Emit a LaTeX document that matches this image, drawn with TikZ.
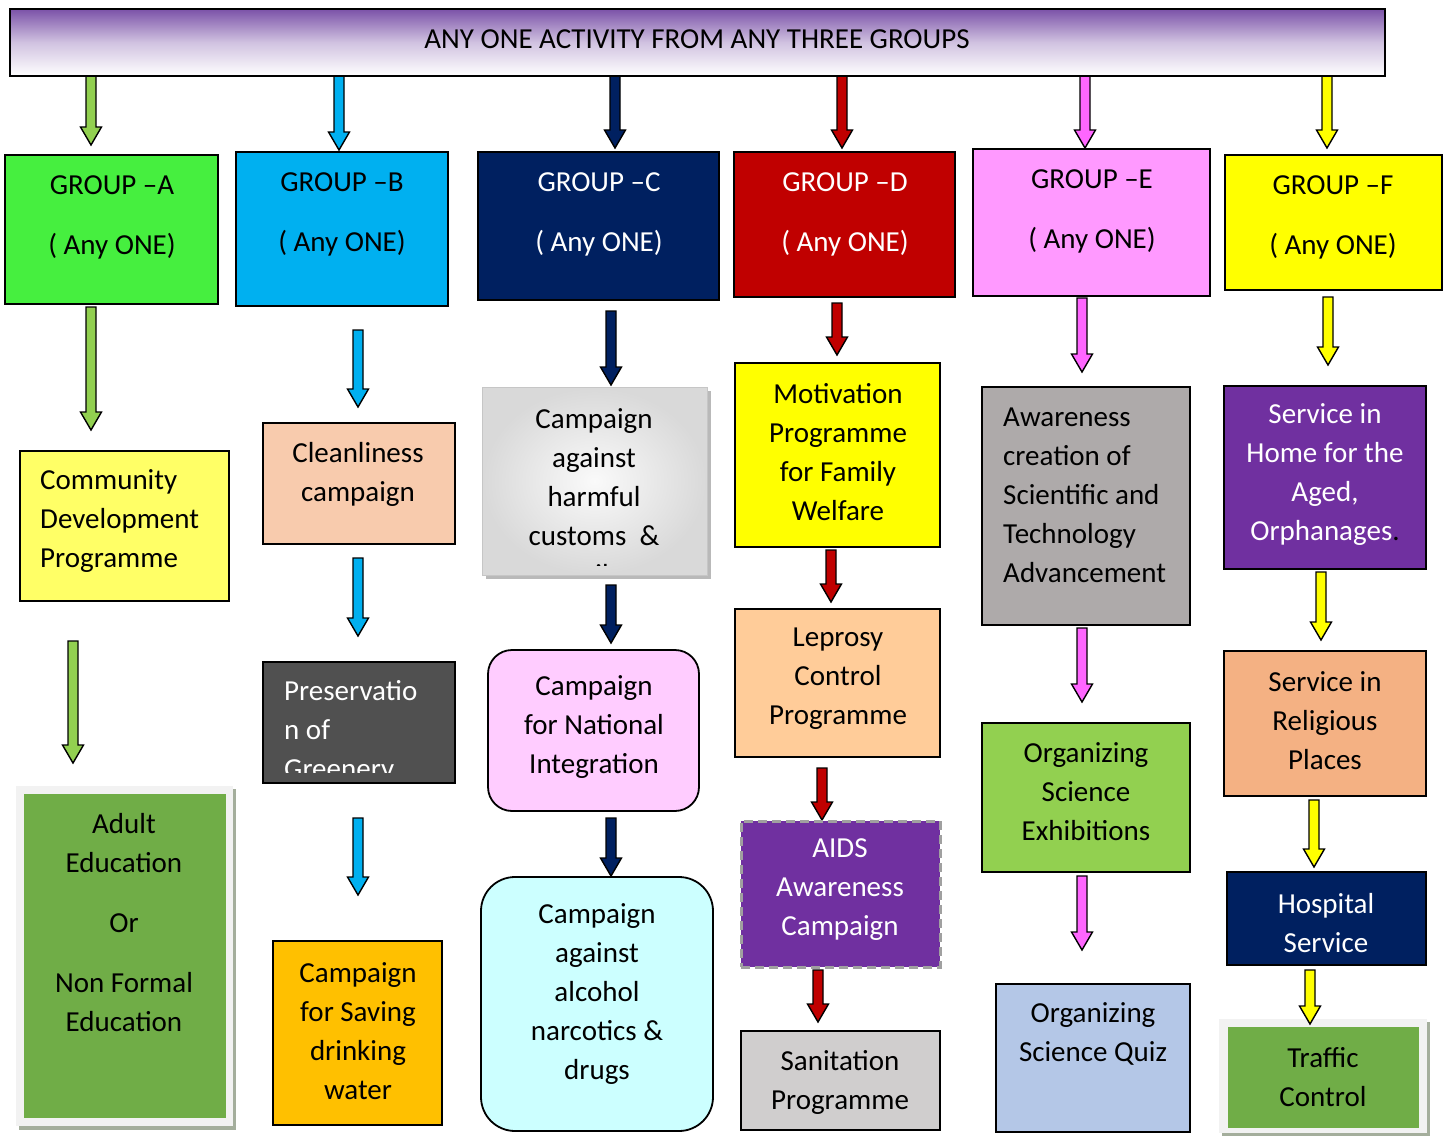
\documentclass[tikz,border=0pt]{standalone}
\usepackage{fontspec}
\setmainfont{Carlito}
\definecolor{bpurple}{HTML}{7B52A8}
\definecolor{agreen}{HTML}{92D050}
\definecolor{acyan}{HTML}{00B0F0}
\definecolor{anavy}{HTML}{002060}
\definecolor{ared}{HTML}{C00000}
\definecolor{apink}{HTML}{FF66FF}
\definecolor{ayellow}{HTML}{FFFF00}
\definecolor{gA}{HTML}{46EF3F}
\definecolor{gE}{HTML}{FF99FF}
\definecolor{lyellow}{HTML}{FFFF66}
\definecolor{olive}{HTML}{70AD47}
\definecolor{peach}{HTML}{F8CBAD}
\definecolor{dgray}{HTML}{505050}
\definecolor{gold}{HTML}{FFC000}
\definecolor{lpink}{HTML}{FFCCFF}
\definecolor{lcyan}{HTML}{CCFFFF}
\definecolor{lorange}{HTML}{FFCC99}
\definecolor{purp}{HTML}{7030A0}
\definecolor{sgray}{HTML}{D0CECE}
\definecolor{mgray}{HTML}{AEAAAA}
\definecolor{lblue}{HTML}{B4C7E7}
\definecolor{salmon}{HTML}{F4B183}
\definecolor{frame}{HTML}{F2F2F2}
\definecolor{fshadow}{HTML}{A4AE9C}
\definecolor{dashgray}{HTML}{A0A0A0}
\newcommand\bx[6]{\node[boxst,#6,minimum width={(#4-#2)*1pt},minimum height={(#5-#3)*1pt}] (#1) at ({(#2+#4)/2},{(#3+#5)/2}) {};}
\newcommand\barr[4]{\draw[arrst, fill=#4] ({#1-5},#2) -- ({#1+5},#2) -- ({#1+5},{#3-18}) -- ({#1+10.5},{#3-18}) -- (#1,#3) -- ({#1-10.5},{#3-18}) -- ({#1-5},{#3-18}) -- cycle;}
\begin{document}
\begin{tikzpicture}[x=1pt,y=-1pt,
  boxst/.style={draw=black, line width=1.8pt, rectangle, inner sep=0pt},
  arrst/.style={draw=black, line width=1.4pt, line join=miter},
  txt/.style={font=\fontsize{29}{39}\selectfont, align=center, inner sep=0pt},
  wtxt/.style={txt, text=white},
  ltxt/.style={txt, align=left, anchor=west}]
\useasboundingbox[fill=white] (0,0) rectangle (1452,1137);
% top arrows
\barr{91}{70}{145}{agreen}
\barr{339}{70}{150}{acyan}
\barr{615}{70}{148}{anavy}
\barr{842}{70}{148}{ared}
\barr{1085}{70}{148}{apink}
\barr{1327}{70}{148}{ayellow}
% banner
\node[draw=black, line width=1.8pt, rectangle, inner sep=0pt, top color=bpurple, bottom color=white, middle color=bpurple!35,
  minimum width=1375pt, minimum height=67pt] (banner) at (697.5,42.5) {};
\node[txt, font=\fontsize{29}{36}\selectfont] (bannert) at (697,39) {ANY ONE ACTIVITY FROM ANY THREE GROUPS};
% group boxes
\bx{ga}{5}{155}{218}{304}{fill=gA}
\bx{gb}{236}{152}{448}{306}{fill=acyan}
\bx{gc}{478}{152}{719}{300}{fill=anavy}
\bx{gd}{734}{152}{955}{297}{fill=ared}
\bx{ge}{973}{149}{1210}{296}{fill=gE}
\bx{gf}{1225}{155}{1442}{290}{fill=ayellow}
\node[txt] (gat) at (112,217) {GROUP –A\\[21pt]( Any ONE)};
\node[txt] (gbt) at (342,214) {GROUP –B\\[21pt]( Any ONE)};
\node[wtxt] (gct) at (599,214) {GROUP –C\\[21pt]( Any ONE)};
\node[wtxt] (gdt) at (845,214) {GROUP –D\\[21pt]( Any ONE)};
\node[txt] (get) at (1092,211) {GROUP –E\\[21pt]( Any ONE)};
\node[txt] (gft) at (1333,217) {GROUP –F\\[21pt]( Any ONE)};
% column A
\barr{91}{307}{430}{agreen}
\bx{a1}{20}{451}{229}{601}{fill=lyellow}
\node[ltxt] (a1t) at (40,521) {Community\\Development\\Programme};
\barr{73}{641}{763}{agreen}
\fill[fshadow] (19,789) rectangle (236,1130);
\fill[frame] (16,786) rectangle (233,1126);
\bx{a2}{24}{794}{226}{1118}{fill=olive, draw=none}
\node[txt] (a2t) at (124,923) {Adult\\Education\\[21pt]Or\\[21pt]Non Formal\\Education};
% column B
\barr{358}{330}{407}{acyan}
\bx{b1}{263}{423}{455}{544}{fill=peach}
\node[txt] (b1t) at (358,474) {Cleanliness\\campaign};
\barr{358}{558}{636}{acyan}
\bx{b2}{263}{662}{455}{783}{fill=dgray}
\begin{scope}
\clip (263,662) rectangle (455,772);
\node[ltxt, text=white] (b2t) at (284,732) {Preservatio\\n of\\Greenery};
\end{scope}
\barr{358}{818}{895}{acyan}
\bx{b3}{273}{941}{442}{1125}{fill=gold}
\node[txt] (b3t) at (358,1031) {Campaign\\for Saving\\drinking\\water};
% column C
\barr{611}{311}{385}{anavy}
\fill[gray!55] (486,391) rectangle (711,579);
\node[draw=gray!45, line width=1pt, rectangle, inner sep=0pt, inner color=gray!4, outer color=gray!30,
  minimum width=225pt, minimum height=188pt] (c1) at (594.5,481) {};
\begin{scope}
\clip (482,387) rectangle (707,565);
\node[txt] (c1t) at (594,497) {Campaign\\against\\harmful\\customs\ \ \&\\evils};
\end{scope}
\barr{611}{585}{643}{anavy}
\bx{c2}{488}{650}{699}{811}{fill=lpink, rounded corners=24pt}
\node[txt] (c2t) at (594,727) {Campaign\\for National\\Integration};
\barr{611}{818}{876}{anavy}
\bx{c3}{481}{877}{713}{1131}{fill=lcyan, rounded corners=34pt}
\node[txt] (c3t) at (597,994) {Campaign\\against\\alcohol\\narcotics \&\\drugs};
% column D
\barr{837}{303}{355}{ared}
\bx{d1}{735}{363}{940}{547}{fill=ayellow}
\node[txt] (d1t) at (838,452) {Motivation\\Programme\\for Family\\Welfare};
\barr{831}{550}{602}{ared}
\bx{d2}{735}{609}{940}{757}{fill=lorange}
\node[txt] (d2t) at (838,679) {Leprosy\\Control\\Programme};
\barr{822}{768}{820}{ared}
\bx{d3}{741}{821}{940}{967}{fill=purp, draw=dashgray, dash pattern=on 9pt off 5pt, line width=3pt}
\node[wtxt] (d3t) at (840,890) {AIDS\\Awareness\\Campaign};
\barr{818}{970}{1022}{ared}
\bx{d4}{741}{1031}{940}{1130}{fill=sgray}
\node[txt] (d4t) at (840,1082) {Sanitation\\Programme};
% column E
\barr{1082}{298}{372}{apink}
\bx{e1}{982}{387}{1190}{625}{fill=mgray}
\node[ltxt] (e1t) at (1003,495) {Awareness\\creation of\\Scientific and\\Technology\\Advancement};
\barr{1082}{628}{702}{apink}
\bx{e2}{982}{723}{1190}{872}{fill=agreen}
\node[txt] (e2t) at (1086,792) {Organizing\\Science\\Exhibitions};
\barr{1082}{876}{950}{apink}
\bx{e3}{996}{984}{1190}{1132}{fill=lblue}
\node[txt] (e3t) at (1093,1034) {Organizing\\Science Quiz};
% column F
\barr{1328}{297}{365}{ayellow}
\bx{f1}{1224}{386}{1426}{569}{fill=purp}
\node[wtxt] (f1t) at (1325,475) {Service in\\Home for the\\Aged,\\Orphanages{\color{black}.}};
\barr{1321}{572}{640}{ayellow}
\bx{f2}{1224}{651}{1426}{796}{fill=salmon}
\node[txt] (f2t) at (1325,721) {Service in\\Religious\\Places};
\barr{1314}{800}{867}{ayellow}
\bx{f3}{1227}{872}{1426}{965}{fill=anavy}
\node[wtxt] (f3t) at (1326,923) {Hospital\\Service};
\fill[fshadow] (1222,1022) rectangle (1430,1136);
\fill[frame] (1219,1019) rectangle (1427,1133);
\barr{1310}{970}{1024}{ayellow}
\bx{f4}{1228}{1027}{1419}{1128}{fill=olive, draw=none}
\node[txt] (f4t) at (1323,1077) {Traffic\\Control};
\end{tikzpicture}
\end{document}
